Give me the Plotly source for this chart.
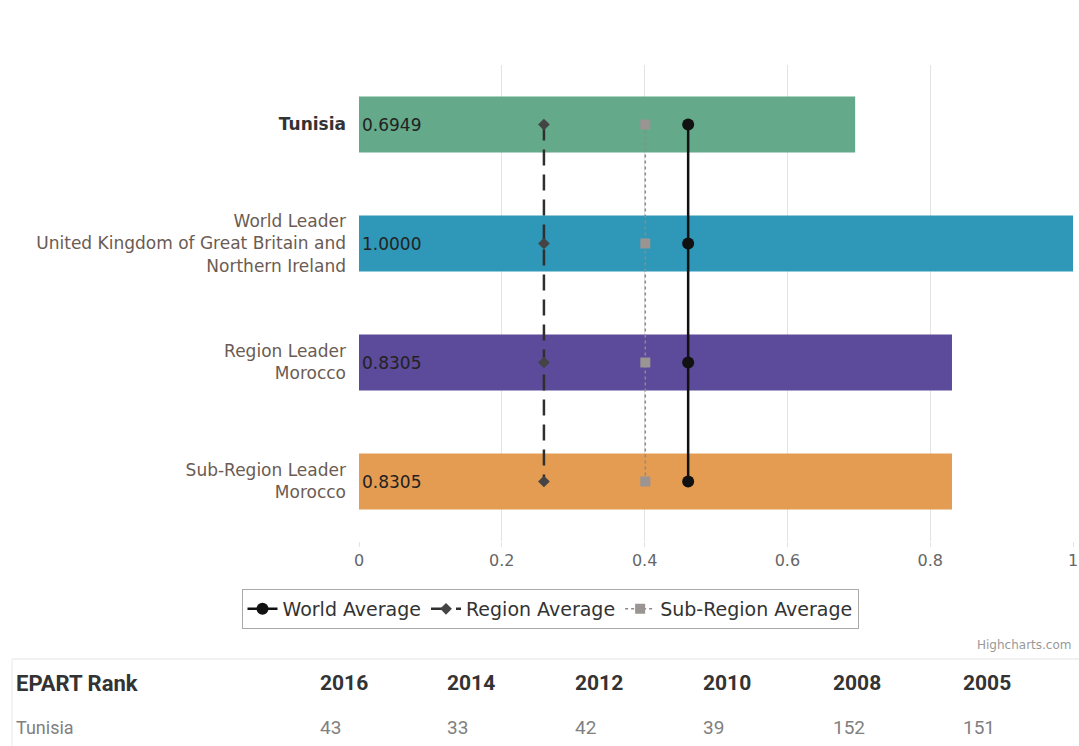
import plotly.graph_objects as go

# ---------------- data ----------------
categories = ["Tunisia",
              "World Leader<br>United Kingdom of Great Britain and<br>Northern Ireland",
              "Region Leader<br>Morocco",
              "Sub-Region Leader<br>Morocco"]
scores = [0.6949, 1.0000, 0.8305, 0.8305]
world_avg = [0.461, 0.461, 0.461, 0.461]
region_avg = [0.259, 0.259, 0.259, 0.259]
subregion_avg = [0.401, 0.401, 0.401, 0.401]
years = ["2016", "2014", "2012", "2010", "2008", "2005"]
ranks = [43, 33, 42, 39, 152, 151]
rank_country = "Tunisia"

bar_colors = ["#63a98a", "#2f97b7", "#5c4a9a", "#e39c52"]

# ---------------- geometry helpers ----------------
W, H = 1079, 746
L, R, T, B = 359, 6, 65, 205
PW = W - L - R
PH = H - T - B


def px_x(px):
    return (px - L) / PW


def px_y(py):
    return (H - B - py) / PH


label_colors = ["#333333", "#6b5b53", "#6b5b53", "#6b5b53"]
ticktext = []
for i, c in enumerate(categories):
    if i == 0:
        ticktext.append(f"<span style='color:{label_colors[i]}'><b>{c}</b></span>")
    else:
        ticktext.append(f"<span style='color:{label_colors[i]}'>{c}</span>")

fig = go.Figure()
fig.add_trace(go.Bar(
    x=scores, y=categories, orientation="h",
    marker=dict(color=bar_colors, line=dict(width=0)),
    width=0.47,
    texttemplate="%{x:.4f}", textposition="inside", insidetextanchor="start",
    textfont=dict(color="#222222", size=17, family="DejaVu Sans"),
    constraintext="none",
    showlegend=False, hoverinfo="skip",
))
fig.add_trace(go.Scatter(
    x=world_avg, y=categories, mode="lines+markers", name="World Average",
    line=dict(color="#111111", width=2.5),
    marker=dict(symbol="circle", size=12, color="#111111"),
))
fig.add_trace(go.Scatter(
    x=region_avg, y=categories, mode="lines+markers", name="Region Average",
    line=dict(color="#2f2f2f", width=2.5, dash="16px,9px"),
    marker=dict(symbol="diamond", size=9, color="#444444"),
))
fig.add_trace(go.Scatter(
    x=subregion_avg, y=categories, mode="lines+markers", name="Sub-Region Average",
    line=dict(color="#8f8a88", width=1.5, dash="dot"),
    marker=dict(symbol="square", size=10, color="#9a9492"),
))

annotations = [
    dict(text="Highcharts.com", x=px_x(1073), y=px_y(645), xref="paper", yref="paper",
         xanchor="right", yanchor="middle", showarrow=False,
         font=dict(size=12, color="#999999", family="DejaVu Sans")),
    dict(text="<b>EPART Rank</b>", x=px_x(14), y=px_y(683), xref="paper", yref="paper",
         xanchor="left", yanchor="middle", showarrow=False,
         font=dict(size=22, color="#333333", family="Roboto")),
    dict(text=rank_country, x=px_x(14), y=px_y(727), xref="paper", yref="paper",
         xanchor="left", yanchor="middle", showarrow=False,
         font=dict(size=18, color="#808080", family="Roboto")),
]
col_left = [318, 445, 573, 701, 831, 961]
for yr, rk, cx in zip(years, ranks, col_left):
    annotations.append(dict(text=f"<b>{yr}</b>", x=px_x(cx), y=px_y(683), xref="paper", yref="paper",
                            xanchor="left", yanchor="middle", showarrow=False,
                            font=dict(size=21, color="#333333", family="Roboto")))
    annotations.append(dict(text=str(rk), x=px_x(cx), y=px_y(727), xref="paper", yref="paper",
                            xanchor="left", yanchor="middle", showarrow=False,
                            font=dict(size=19, color="#808080", family="Roboto")))

shapes = [
    dict(type="line", xref="paper", yref="paper", x0=px_x(12), x1=px_x(1079),
         y0=px_y(659), y1=px_y(659), line=dict(color="#ececec", width=1.5)),
    dict(type="line", xref="paper", yref="paper", x0=px_x(12), x1=px_x(12),
         y0=px_y(659), y1=px_y(746), line=dict(color="#f0f0f0", width=1.5)),
]

fig.update_layout(
    width=W, height=H,
    margin=dict(l=L, r=R, t=T, b=B, pad=0, autoexpand=False),
    paper_bgcolor="white", plot_bgcolor="white",
    font=dict(family="DejaVu Sans", size=17, color="#666666"),
    bargap=0.53,
    xaxis=dict(range=[0, 1], tickvals=[0, 0.2, 0.4, 0.6, 0.8, 1.0],
               ticktext=["0", "0.2", "0.4", "0.6", "0.8", "1"],
               showgrid=True, gridcolor="#e3e3e3", gridwidth=1, zeroline=False,
               ticks="outside", ticklen=5, tickcolor="#e3e3e3",
               tickfont=dict(size=16, color="#666666"), showline=False,
               automargin=False, fixedrange=True),
    yaxis=dict(categoryorder="array", categoryarray=categories, autorange="reversed",
               tickvals=categories, ticktext=ticktext,
               showgrid=False, zeroline=False, showline=False, ticks="",
               ticklabelstandoff=12, tickfont=dict(size=17), automargin=False,
               fixedrange=True),
    legend=dict(orientation="h", x=px_x(550), y=px_y(609), xanchor="center", yanchor="middle",
                bordercolor="#aaaaaa", borderwidth=1, bgcolor="white",
                font=dict(size=19, color="#333333"), itemwidth=30,
                traceorder="normal", tracegroupgap=0),
    annotations=annotations,
    shapes=shapes,
)

fig.write_html("out.html")
